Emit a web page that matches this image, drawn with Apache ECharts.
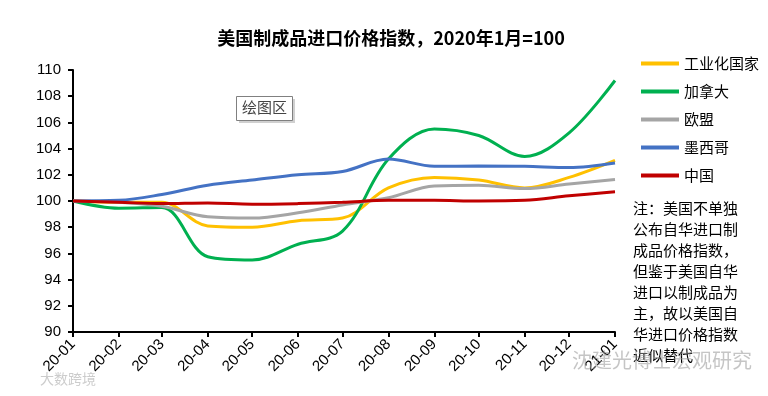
<!DOCTYPE html>
<html>
<head>
<meta charset="utf-8">
<script src="https://cdn.jsdelivr.net/npm/echarts@6/dist/echarts.min.js"></script>
<style>
  html, body { margin: 0; padding: 0; background: #fff; }
  #chart { width: 768px; height: 396px; }
</style>
</head>
<body>
<div id="chart"></div>
<script>
// months 2020-01 .. 2021-01
const months = ['2020-01', '2020-02', '2020-03', '2020-04', '2020-05', '2020-06', '2020-07',
  '2020-08', '2020-09', '2020-10', '2020-11', '2020-12', '2021-01'];
const monthLabels = ['20-01', '20-02', '20-03', '20-04', '20-05', '20-06', '20-07',
  '20-08', '20-09', '20-10', '20-11', '20-12', '21-01'];

const industrial = [100, 99.9, 99.9, 98.1, 98.0, 98.5, 98.7, 101.0, 101.8, 101.6, 101.0, 101.8, 103.1];
const canada     = [100, 99.45, 99.5, 95.75, 95.5, 96.7, 97.7, 103.2, 105.5, 105.0, 103.4, 105.2, 109.2];
const eu         = [100, 99.9, 99.6, 98.8, 98.7, 99.1, 99.7, 100.25, 101.15, 101.2, 100.95, 101.3, 101.65];
const mexico     = [100, 100.05, 100.5, 101.2, 101.6, 102.0, 102.25, 103.2, 102.65, 102.67, 102.65, 102.55, 102.9];
const china      = [100, 99.9, 99.8, 99.85, 99.75, 99.8, 99.9, 100.05, 100.05, 100.0, 100.05, 100.4, 100.7];

const seriesNames = ['工业化国家', '加拿大', '欧盟', '墨西哥', '中国'];
const seriesColors = ['#FFC000', '#00B050', '#A5A5A5', '#4472C4', '#C00000'];
const seriesData = [industrial, canada, eu, mexico, china];

const noteText = '注：美国不单独\n公布自华进口制\n成品价格指数，\n但鉴于美国自华\n进口以制成品为\n主，故以美国自\n华进口价格指数\n近似替代';

// day number since 2020-01-01 (the axis is spaced by calendar days)
const dayOf = m => (Date.UTC(+m.slice(0, 4), +m.slice(5) - 1, 1) - Date.UTC(2020, 0, 1)) / 86400000;
const monthDays = months.map(dayOf);

const chart = echarts.init(document.getElementById('chart'));

const option = {
  animation: false,
  backgroundColor: '#fff',
  title: {
    text: '美国制成品进口价格指数，2020年1月=100',
    left: 386,
    textAlign: 'center',
    top: 24,
    textStyle: {
      fontFamily: 'Noto Sans CJK SC',
      fontSize: 18,
      fontWeight: 'bold',
      color: '#000'
    }
  },
  legend: {
    orient: 'vertical',
    left: 636,
    top: 51,
    itemWidth: 38,
    itemHeight: 4,
    itemGap: 13,
    icon: 'rect',
    data: seriesNames,
    textStyle: {
      fontFamily: 'Noto Sans CJK SC',
      fontSize: 15,
      color: '#000'
    }
  },
  grid: { left: 73, right: 153, top: 70, bottom: 64, containLabel: false },
  xAxis: {
    type: 'value',
    min: monthDays[0],
    max: monthDays[monthDays.length - 1],
    splitLine: { show: false },
    axisLine: { lineStyle: { color: '#000', width: 2 } },
    axisTick: { length: 5, lineStyle: { color: '#000', width: 2 }, customValues: monthDays },
    axisLabel: {
      customValues: monthDays,
      rotate: 45,
      fontFamily: 'Liberation Sans',
      fontSize: 15,
      color: '#000',
      margin: 10,
      formatter: v => monthLabels[monthDays.indexOf(v)]
    }
  },
  yAxis: {
    type: 'value',
    min: 90,
    max: 110,
    interval: 2,
    splitLine: { show: false },
    axisLine: { show: true, lineStyle: { color: '#000', width: 2 } },
    axisTick: { show: true, length: 5, lineStyle: { color: '#000', width: 2 } },
    axisLabel: {
      fontFamily: 'Liberation Sans',
      fontSize: 15,
      color: '#000',
      margin: 12
    }
  },
  series: seriesNames.map((name, i) => ({
    name: name,
    type: 'line',
    data: seriesData[i].map((v, j) => [monthDays[j], v]),
    smooth: 0.35,
    showSymbol: false,
    symbol: 'none',
    lineStyle: { color: seriesColors[i], width: 3 },
    itemStyle: { color: seriesColors[i] },
    z: i === 4 ? 3 : 2
  })),
  graphic: [
    {
      type: 'rect',
      left: 239, top: 99,
      shape: { width: 56, height: 24 },
      style: { fill: '#d0d0d0' },
      z: 5
    },
    {
      type: 'rect',
      left: 236, top: 96,
      shape: { width: 56, height: 24 },
      style: { fill: '#fff', stroke: '#808080', lineWidth: 1 },
      z: 6
    },
    {
      type: 'text',
      left: 242, top: 100,
      style: { text: '绘图区', font: '15px "Noto Sans CJK SC"', fill: '#444' },
      z: 7
    },
    {
      type: 'text',
      left: 633, top: 198,
      style: {
        text: noteText,
        font: '15px "Noto Sans CJK SC"',
        fill: '#000',
        lineHeight: 21
      },
      z: 4
    },
    {
      type: 'text',
      left: 572, top: 350,
      style: { text: '沈建光博士宏观研究', font: '20px "Noto Sans CJK SC"', fill: 'rgba(150,150,150,0.55)' },
      z: 8
    },
    {
      type: 'text',
      left: 40, top: 372,
      style: { text: '大数跨境', font: '14px "Noto Sans CJK SC"', fill: 'rgba(170,170,170,0.6)' },
      z: 8
    }
  ]
};

chart.setOption(option);
</script>
</body>
</html>
